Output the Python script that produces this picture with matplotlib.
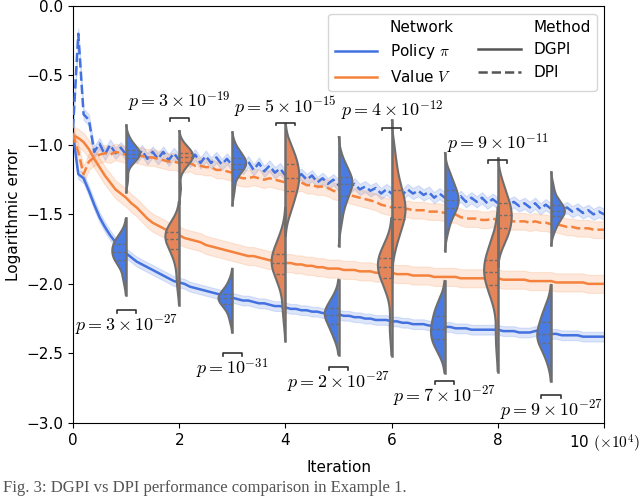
import numpy as np
import matplotlib
matplotlib.use("Agg")
import matplotlib.pyplot as plt
from matplotlib.lines import Line2D

plt.rcParams['font.family'] = ['DejaVu Sans']
plt.rcParams['mathtext.fontset'] = 'cm'
plt.rcParams['font.size'] = 11

# iteration axis (x 10^4), one point every 1000 iterations
iters = np.arange(101) / 10.0

policy_dpi = [-0.88, -0.20, -0.78, -0.82, -1.05, -0.99, -1.07, -1.00, -1.06, -1.02,
              -1.07, -1.03, -1.09, -1.04, -1.10, -1.05, -1.10, -1.05, -1.11, -1.06,
              -1.11, -1.07, -1.12, -1.07, -1.13, -1.08, -1.13, -1.09, -1.14, -1.10,
              -1.15, -1.11, -1.17, -1.12, -1.18, -1.13, -1.19, -1.15, -1.20, -1.17,
              -1.22, -1.19, -1.24, -1.21, -1.25, -1.22, -1.27, -1.24, -1.28, -1.25,
              -1.29, -1.27, -1.31, -1.28, -1.32, -1.30, -1.33, -1.31, -1.35, -1.32,
              -1.35, -1.32, -1.36, -1.32, -1.35, -1.33, -1.36, -1.34, -1.38, -1.35,
              -1.38, -1.36, -1.40, -1.37, -1.41, -1.38, -1.41, -1.38, -1.42, -1.39,
              -1.42, -1.40, -1.43, -1.41, -1.44, -1.42, -1.45, -1.42, -1.46, -1.43,
              -1.46, -1.44, -1.47, -1.45, -1.48, -1.46, -1.49, -1.47, -1.50, -1.48,
              -1.50]
value_dpi = [-0.92, -1.05, -1.21, -1.12, -1.09, -1.07, -1.06, -1.07, -1.05, -1.06,
             -1.07, -1.08, -1.07, -1.08, -1.09, -1.09, -1.10, -1.11, -1.12, -1.12,
             -1.13, -1.14, -1.13, -1.15, -1.15, -1.16, -1.16, -1.18, -1.18, -1.19,
             -1.20, -1.23, -1.24, -1.24, -1.23, -1.24, -1.25, -1.24, -1.25, -1.26,
             -1.27, -1.27, -1.28, -1.27, -1.29, -1.29, -1.30, -1.30, -1.31, -1.33,
             -1.34, -1.34, -1.36, -1.37, -1.38, -1.39, -1.40, -1.41, -1.43, -1.44,
             -1.45, -1.46, -1.47, -1.46, -1.47, -1.47, -1.47, -1.48, -1.48, -1.48,
             -1.49, -1.50, -1.50, -1.52, -1.53, -1.53, -1.53, -1.54, -1.54, -1.53,
             -1.54, -1.54, -1.55, -1.55, -1.55, -1.55, -1.56, -1.55, -1.56, -1.56,
             -1.57, -1.57, -1.58, -1.59, -1.59, -1.60, -1.60, -1.60, -1.61, -1.61,
             -1.61]
policy_dgpi = [-0.92, -1.21, -1.24, -1.33, -1.43, -1.52, -1.59, -1.65, -1.70, -1.74,
               -1.78, -1.81, -1.84, -1.86, -1.88, -1.90, -1.92, -1.94, -1.96, -1.98,
               -1.99, -2.00, -2.02, -2.03, -2.04, -2.05, -2.06, -2.07, -2.08, -2.09,
               -2.10, -2.11, -2.12, -2.12, -2.13, -2.14, -2.14, -2.15, -2.16, -2.16,
               -2.17, -2.18, -2.18, -2.19, -2.19, -2.20, -2.20, -2.21, -2.21, -2.22,
               -2.22, -2.23, -2.23, -2.24, -2.24, -2.25, -2.25, -2.26, -2.26, -2.26,
               -2.27, -2.27, -2.28, -2.28, -2.29, -2.29, -2.29, -2.30, -2.30, -2.31,
               -2.31, -2.31, -2.32, -2.32, -2.32, -2.33, -2.33, -2.33, -2.33, -2.33,
               -2.33, -2.34, -2.34, -2.34, -2.35, -2.35, -2.35, -2.34, -2.33, -2.35,
               -2.36, -2.36, -2.37, -2.37, -2.37, -2.37, -2.38, -2.38, -2.38, -2.38,
               -2.38]
value_dgpi = [-0.93, -0.95, -0.98, -1.03, -1.10, -1.16, -1.22, -1.27, -1.32, -1.35,
              -1.38, -1.42, -1.45, -1.49, -1.53, -1.56, -1.58, -1.60, -1.62, -1.64,
              -1.65, -1.67, -1.68, -1.69, -1.70, -1.72, -1.73, -1.74, -1.75, -1.76,
              -1.77, -1.78, -1.79, -1.80, -1.80, -1.81, -1.82, -1.83, -1.83, -1.84,
              -1.85, -1.85, -1.86, -1.86, -1.87, -1.87, -1.88, -1.88, -1.89, -1.89,
              -1.89, -1.90, -1.90, -1.90, -1.91, -1.91, -1.91, -1.92, -1.92, -1.92,
              -1.92, -1.93, -1.93, -1.93, -1.94, -1.94, -1.94, -1.94, -1.95, -1.95,
              -1.95, -1.95, -1.95, -1.96, -1.96, -1.96, -1.96, -1.96, -1.96, -1.96,
              -1.96, -1.97, -1.97, -1.97, -1.97, -1.97, -1.98, -1.98, -1.98, -1.98,
              -1.98, -1.99, -1.99, -1.99, -1.99, -1.99, -1.99, -2.00, -2.00, -2.00,
              -2.00]

# spread of the runs (half width of the shaded band)
policy_dpi_std = 0.04
value_dpi_std = 0.06
policy_dgpi_std = 0.035
value_dgpi_std = 0.065

# final errors of the runs at checkpoints, for the violins
violin_pos = [1, 2, 3, 4, 5, 6, 7, 8, 9]
violin_net = ['policy', 'value', 'policy', 'value', 'policy', 'value', 'policy', 'value', 'policy']
runs_dgpi = [
    [-1.64, -1.68, -1.70, -1.72, -1.74, -1.76, -1.78, -1.80, -1.82, -1.84, -1.87, -1.97],
    [-1.56, -1.59, -1.61, -1.63, -1.65, -1.67, -1.69, -1.71, -1.74, -1.78, -1.86, -2.00],
    [-1.98, -2.03, -2.06, -2.08, -2.09, -2.10, -2.11, -2.12, -2.14, -2.16, -2.19, -2.26],
    [-1.64, -1.71, -1.76, -1.79, -1.82, -1.84, -1.86, -1.89, -1.92, -1.96, -2.05, -2.22],
    [-2.08, -2.13, -2.16, -2.18, -2.20, -2.22, -2.23, -2.25, -2.28, -2.31, -2.34, -2.40],
    [-1.72, -1.76, -1.79, -1.82, -1.85, -1.87, -1.89, -1.92, -1.95, -1.99, -2.06, -2.32],
    [-2.12, -2.17, -2.21, -2.24, -2.28, -2.31, -2.34, -2.36, -2.39, -2.42, -2.45, -2.50],
    [-1.68, -1.75, -1.80, -1.84, -1.87, -1.90, -1.93, -1.96, -2.00, -2.04, -2.12, -2.40],
    [-2.15, -2.21, -2.25, -2.28, -2.32, -2.35, -2.37, -2.39, -2.42, -2.44, -2.48, -2.56],
]
runs_dpi = [
    [-0.95, -1.00, -1.02, -1.04, -1.05, -1.06, -1.07, -1.08, -1.09, -1.11, -1.14, -1.25],
    [-1.00, -1.03, -1.05, -1.06, -1.07, -1.08, -1.09, -1.10, -1.12, -1.14, -1.17, -1.32],
    [-1.01, -1.06, -1.08, -1.10, -1.12, -1.13, -1.14, -1.15, -1.17, -1.19, -1.23, -1.33],
    [-1.02, -1.07, -1.11, -1.15, -1.19, -1.22, -1.25, -1.28, -1.32, -1.36, -1.42, -1.48],
    [-1.10, -1.17, -1.21, -1.24, -1.26, -1.27, -1.29, -1.32, -1.36, -1.40, -1.46, -1.57],
    [-1.05, -1.18, -1.28, -1.34, -1.39, -1.43, -1.46, -1.49, -1.52, -1.56, -1.62, -1.72],
    [-1.20, -1.26, -1.30, -1.33, -1.36, -1.39, -1.41, -1.43, -1.45, -1.48, -1.53, -1.62],
    [-1.26, -1.34, -1.39, -1.43, -1.46, -1.49, -1.52, -1.55, -1.59, -1.62, -1.66, -1.71],
    [-1.30, -1.38, -1.42, -1.44, -1.46, -1.47, -1.48, -1.49, -1.51, -1.53, -1.57, -1.62],
]

# significance labels: position, bracket height, text
p_pos = [1, 2, 3, 4, 5, 6, 7, 8, 9]
p_text = [r'$p=3\times10^{-27}$', r'$p=3\times10^{-19}$', r'$p=10^{-31}$',
          r'$p=5\times10^{-15}$', r'$p=2\times10^{-27}$', r'$p=4\times10^{-12}$',
          r'$p=7\times10^{-27}$', r'$p=9\times10^{-11}$', r'$p=9\times10^{-27}$']
p_y = [-2.19, -0.805, -2.50, -0.84, -2.60, -0.875, -2.70, -1.11, -2.80]
p_above = [False, True, False, True, False, True, False, True, False]

line_col = {'policy': '#4371e0', 'value': '#f5823c'}
violin_col = {'policy': '#4a7be3', 'value': '#e5855a'}
edge = '#6e6e6e'


def half_violin(ax, pos, runs, side, color):
    s = np.array(runs)
    bw = s.std(ddof=1) * len(s) ** (-0.2)
    grid = np.linspace(s.min() - 2 * bw, s.max() + 2 * bw, 200)
    dens = np.exp(-0.5 * ((grid[:, None] - s[None, :]) / bw) ** 2).sum(axis=1)
    w = dens / dens.max() * 0.26
    sgn = -1 if side == 'left' else 1
    ax.fill_betweenx(grid, pos, pos + sgn * w, facecolor=color, edgecolor='none', zorder=5)
    ax.plot(np.r_[pos, pos + sgn * w, pos], np.r_[grid[0], grid, grid[-1]],
            color=edge, lw=1.5, zorder=6, solid_capstyle='round')
    ax.plot([pos, pos], [grid[0], grid[-1]], color=edge, lw=1.8, zorder=6)
    for q in np.percentile(s, [25, 50, 75]):
        wq = np.interp(q, grid, w)
        ax.plot([pos, pos + sgn * wq], [q, q], color=edge, lw=1.0,
                ls=(0, (2.5, 1.5)), zorder=7)


fig, ax = plt.subplots(figsize=(6.4, 4.98), dpi=100)
fig.subplots_adjust(left=0.114, right=0.944, top=0.988, bottom=0.151)

for y, sd, net, ls in [(policy_dgpi, policy_dgpi_std, 'policy', '-'),
                       (value_dgpi, value_dgpi_std, 'value', '-'),
                       (policy_dpi, policy_dpi_std, 'policy', '--'),
                       (value_dpi, value_dpi_std, 'value', '--')]:
    y = np.array(y)
    ax.fill_between(iters, y - sd, y + sd, color=line_col[net], alpha=0.18, lw=0.8, zorder=2)
    ax.plot(iters, y, color=line_col[net], ls=ls, lw=1.8, zorder=3)

for pos, net, a, b in zip(violin_pos, violin_net, runs_dgpi, runs_dpi):
    half_violin(ax, pos, a, 'left', violin_col[net])
    half_violin(ax, pos, b, 'right', violin_col[net])

for pos, txt, yb, up in zip(p_pos, p_text, p_y, p_above):
    ax.plot([pos - 0.18, pos - 0.18, pos + 0.18, pos + 0.18],
            [yb - 0.02, yb, yb, yb - 0.02], color='#333333', lw=1.2, zorder=8)
    if up:
        ax.annotate(txt, (pos, yb), xytext=(0, 3), textcoords='offset points',
                    ha='center', va='bottom', fontsize=13)
    else:
        ax.annotate(txt, (pos, yb), xytext=(0, -2), textcoords='offset points',
                    ha='center', va='top', fontsize=13)

ax.set_xlim(0, 10)
ax.set_ylim(-3.0, 0.0)
ax.set_xticks([0, 2, 4, 6, 8, 10])
ax.set_xticklabels(['0', '2', '4', '6', '8', r'10 $(\times10^4)$'])
ax.set_yticks([0.0, -0.5, -1.0, -1.5, -2.0, -2.5, -3.0])
ax.set_xlabel('Iteration')
ax.set_ylabel('Logarithmic error')

handles = [Line2D([], [], color='none'),
           Line2D([], [], color=line_col['policy'], lw=1.8),
           Line2D([], [], color=line_col['value'], lw=1.8),
           Line2D([], [], color='none'),
           Line2D([], [], color='#555555', lw=1.8),
           Line2D([], [], color='#555555', lw=1.8, ls='--')]
labels = ['Network', r'Policy $\pi$', r'Value $V$', 'Method', 'DGPI', 'DPI']
ax.legend(handles, labels, ncol=2, loc='upper right', handlelength=2.8,
          fontsize=11, labelspacing=0.5, columnspacing=1.6)

fig.text(0.005, 0.004, 'Fig. 3: DGPI vs DPI performance comparison in Example 1.',
         family='Liberation Serif', fontsize=12, color='#555555', va='bottom')

fig.savefig('out.png', dpi=100)
